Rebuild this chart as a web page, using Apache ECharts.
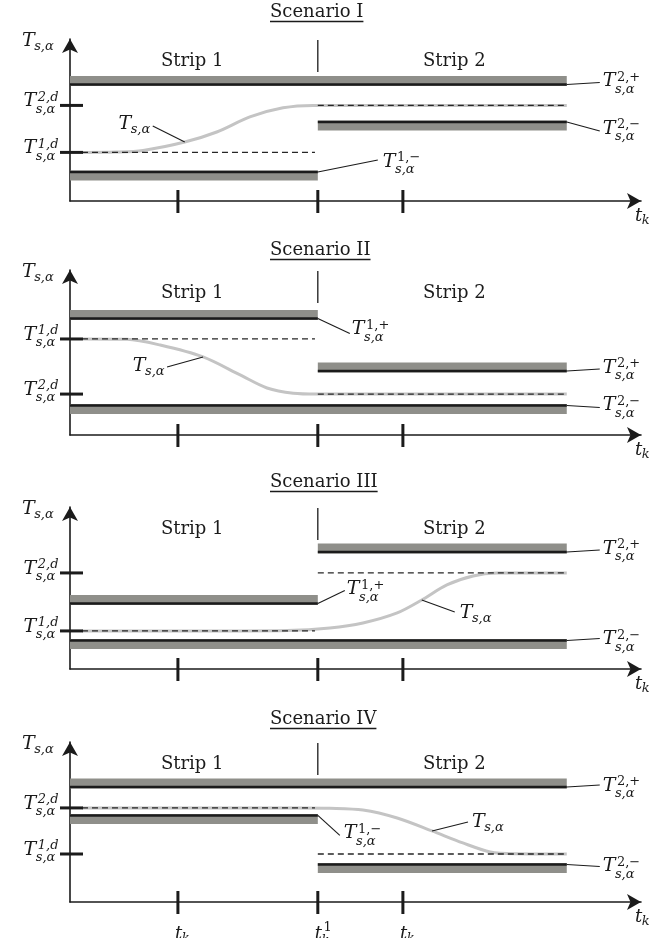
<!DOCTYPE html>
<html>
<head>
<meta charset="utf-8">
<script src="https://cdn.jsdelivr.net/npm/echarts@6/dist/echarts.min.js"></script>
<style>
  html, body { margin: 0; padding: 0; background: #fff; }
  #chart { width: 669px; height: 938px; }
</style>
</head>
<body>
<div id="chart"></div>
<script>
// ---------- shared axis values ----------
const timeRange = [0, 100];
const levelRange = [0, 10];
const switchTime = 43.4;      // t_k^1 : hand-over from strip 1 to strip 2
const horizonEnd = 87;
const profileStart = 2.1;
const strip1RefEnd = 42.9;
const tickTimes = [18.9, 43.4, 58.3];
const tickNames = [
  { main: 't', sub: 'k', subsub: '0,2' },
  { main: 't', sub: 'k', sup: '1' },
  { main: 't', sub: 'k', subsub: '1,2' }
];
const scenarioTitles = ['Scenario I', 'Scenario II', 'Scenario III', 'Scenario IV'];
const stripNames = ['Strip 1', 'Strip 2'];
const stripCentres = [21.4, 67.3];

// ---------- Scenario I ----------
const targetsI = [3.0, 5.9];                        // T^{1,d}, T^{2,d}
const boundsI = [                                    // [from, to, level, +1 upper / -1 lower]
  [0, 87, 7.19, 1],
  [43.4, 87, 4.88, -1],
  [0, 43.4, 1.79, -1]
];
const referenceI = [[profileStart, strip1RefEnd, targetsI[0]], [switchTime, horizonEnd, targetsI[1]]];
const profileI = [[2.1, 3.0], [8, 3.02], [12.8, 3.12], [20.1, 3.64], [25.7, 4.26], [31.5, 5.19], [37.3, 5.75], [42.6, 5.9], [50, 5.9], [87, 5.9]];
const calloutAnchorsI = [[87, 7.19], [87, 4.88], [43.4, 1.79], [20.1, 3.64]];
const calloutNamesI = ['2,+', '2,\u2212', '1,\u2212', null];

// ---------- Scenario II ----------
const targetsII = [5.82, 2.48];
const boundsII = [
  [0, 43.4, 7.06, 1],
  [43.4, 87, 3.88, 1],
  [0, 87, 1.79, -1]
];
const referenceII = [[profileStart, strip1RefEnd, targetsII[0]], [switchTime, horizonEnd, targetsII[1]]];
const profileII = [[2.3, 5.82], [10, 5.8], [15.8, 5.45], [23.3, 4.73], [29.8, 3.64], [34.5, 2.85], [39.1, 2.53], [43.3, 2.48], [50, 2.48], [87, 2.48]];
const calloutAnchorsII = [[43.4, 7.06], [23.3, 4.73], [87, 3.88], [87, 1.79]];
const calloutNamesII = ['1,+', null, '2,+', '2,\u2212'];

// ---------- Scenario III ----------
const targetsIII = [2.35, 5.93];
const boundsIII = [
  [43.4, 87, 7.22, 1],
  [0, 43.4, 4.04, 1],
  [0, 87, 1.76, -1]
];
const referenceIII = [[profileStart, strip1RefEnd, targetsIII[0]], [switchTime, horizonEnd, targetsIII[1]]];
const profileIII = [[2.1, 2.35], [30, 2.35], [38, 2.37], [45.5, 2.53], [51.3, 2.84], [57.3, 3.46], [61.6, 4.26], [66, 5.19], [70.6, 5.74], [74.8, 5.92], [80, 5.93], [87, 5.93]];
const calloutAnchorsIII = [[87, 7.22], [43.4, 4.04], [61.6, 4.26], [87, 1.76]];
const calloutNamesIII = ['2,+', '1,+', null, '2,\u2212'];

// ---------- Scenario IV ----------
const targetsIV = [3.0, 5.88];
const boundsIV = [
  [0, 87, 7.19, 1],
  [0, 43.4, 5.41, -1],
  [43.4, 87, 2.34, -1]
];
const referenceIV = [[profileStart, strip1RefEnd, targetsIV[1]], [switchTime, horizonEnd, targetsIV[0]]];
const profileIV = [[2.1, 5.88], [30, 5.88], [40, 5.88], [45.5, 5.86], [51.3, 5.75], [57.3, 5.25], [63.4, 4.44], [68.8, 3.69], [73.6, 3.13], [78.3, 3.01], [82, 3.0], [87, 3.0]];
const calloutAnchorsIV = [[87, 7.19], [43.4, 5.41], [63.4, 4.44], [87, 2.34]];
const calloutNamesIV = ['2,+', '1,\u2212', null, '2,\u2212'];

// ---------- layout (pixels) ----------
const GRID_LEFT = 70, GRID_WIDTH = 571;
const panelBox = [
  { top: 39, height: 162, titleY: 12 },
  { top: 270, height: 165, titleY: 250 },
  { top: 507, height: 162, titleY: 482 },
  { top: 742, height: 160, titleY: 719 }
];
// leader vector (dx, dy) from anchor, then label offset (lx, ly) from the leader end
const calloutLayout = [
  [[33, -2, 3, -1], [33, 9, 3, -2], [60, -12, 5, 2], [-32, -16, -1, -2]],
  [[32, 15, 2, -4], [-36, 10, -1, -1], [33, -2, 3, -1], [33, 2, 3, -2]],
  [[33, -2, 3, -1], [27, -13, 2, -1], [33, 12, 5, 1], [33, -2, 3, 1]],
  [[33, -2, 3, 1], [22, 20, 4, -2], [36, -9, 4, 0], [33, 2, 3, 0]]
];
const STRIP_LABEL_LEVEL = 8.6;

const FONT = '"DejaVu Serif", "Liberation Serif", serif';
const INK = '#1b1b1b';
const BAND = '#8f8f8a';
const PROFILE = '#c4c4c4';

const scenarios = [
  { targets: targetsI, bounds: boundsI, reference: referenceI, profile: profileI, anchors: calloutAnchorsI, names: calloutNamesI },
  { targets: targetsII, bounds: boundsII, reference: referenceII, profile: profileII, anchors: calloutAnchorsII, names: calloutNamesII },
  { targets: targetsIII, bounds: boundsIII, reference: referenceIII, profile: profileIII, anchors: calloutAnchorsIII, names: calloutNamesIII },
  { targets: targetsIV, bounds: boundsIV, reference: referenceIV, profile: profileIV, anchors: calloutAnchorsIV, names: calloutNamesIV }
];

// ---------- text helpers ----------
const measureCtx = document.createElement('canvas').getContext('2d');
function textWidth(str, font) { measureCtx.font = font; return measureCtx.measureText(str).width; }

function txt(x, y, text, font, align) {
  const a = align || 'left';
  return {
    type: 'text', silent: true,
    style: { x: x, y: y, text: text, font: font, fill: INK, align: a, textAlign: a, verticalAlign: 'middle', textVerticalAlign: 'middle' }
  };
}

// A symbol like T^{2,+}_{s,α}: main letter with super-/subscript stacked after it
function mathSymbol(x, y, spec, anchor) {
  const size = spec.size || 19;
  const mainFont = 'italic ' + size + 'px ' + FONT;
  const idxFont = (spec.sup && /[a-z]/.test(spec.sup) ? 'italic ' : '') + '13px ' + FONT;
  const subFont = 'italic 13px ' + FONT;
  const tinyFont = '10px ' + FONT;
  const mainW = textWidth(spec.main, mainFont);
  const supW = spec.sup ? textWidth(spec.sup, idxFont) : 0;
  const kW = spec.sub ? textWidth(spec.sub, subFont) : 0;
  const subW = kW + (spec.subsub ? textWidth(spec.subsub, tinyFont) + 0.5 : 0);
  const total = mainW + 1 + Math.max(supW, subW);
  const x0 = anchor === 'right' ? x - total : x;
  const out = [txt(x0, y, spec.main, mainFont)];
  const lower = spec.main === 't';
  if (spec.sup) out.push(txt(x0 + mainW + 1.5, y - (lower ? 6 : 4), spec.sup, idxFont));
  if (spec.sub) {
    const sy = y + (spec.sup ? (lower ? 7 : 8) : (lower ? 5 : 6));
    out.push(txt(x0 + mainW - 0.5, sy, spec.sub, subFont));
    if (spec.subsub) out.push(txt(x0 + mainW + kW, sy + 4, spec.subsub, tinyFont));
  }
  return out;
}

// ---------- render functions ----------
function renderBound(params, api) {
  const a = api.coord([api.value(0), api.value(2)]);
  const b = api.coord([api.value(1), api.value(2)]);
  const upper = api.value(3) > 0;
  return {
    type: 'group', children: [
      { type: 'rect', shape: { x: a[0], y: upper ? a[1] - 8.5 : a[1] - 1.5, width: b[0] - a[0], height: 10 }, style: { fill: BAND } },
      { type: 'line', shape: { x1: a[0], y1: a[1], x2: b[0], y2: b[1] }, style: { stroke: INK, lineWidth: 2.4 } }
    ]
  };
}

function renderReference(params, api) {
  const a = api.coord([api.value(0), api.value(2)]);
  const b = api.coord([api.value(1), api.value(2)]);
  return { type: 'line', shape: { x1: a[0], y1: a[1], x2: b[0], y2: b[1] }, style: { stroke: '#262626', lineWidth: 1.3, lineDash: [6, 4] } };
}

function renderTarget(params, api) {
  const p = api.coord([api.value(0), api.value(1)]);
  const n = params.dataIndex + 1;
  return {
    type: 'group', children: [
      { type: 'line', shape: { x1: p[0] - 10, y1: p[1], x2: p[0] + 13, y2: p[1] }, style: { stroke: INK, lineWidth: 3 } }
    ].concat(mathSymbol(p[0] - 12, p[1] - 4, { main: 'T', sup: n + ',d', sub: 's,\u03b1' }, 'right'))
  };
}

function makeTimeTickRenderer(withLabels) {
  return function (params, api) {
    const p = api.coord([api.value(0), api.value(1)]);
    const kids = [{ type: 'line', shape: { x1: p[0], y1: p[1] - 11, x2: p[0], y2: p[1] + 12 }, style: { stroke: INK, lineWidth: 3 } }];
    if (withLabels) {
      const spec = Object.assign({ size: 18 }, tickNames[params.dataIndex]);
      return { type: 'group', children: kids.concat(mathSymbol(p[0] - 3, p[1] + 32, spec, 'left')) };
    }
    return { type: 'group', children: kids };
  };
}

function renderSeparator(params, api) {
  const p = api.coord([api.value(0), api.value(1)]);
  return { type: 'line', shape: { x1: p[0], y1: p[1] + 1, x2: p[0], y2: p[1] + 33 }, style: { stroke: INK, lineWidth: 1.3 } };
}

function renderStripName(params, api) {
  const p = api.coord([api.value(0), api.value(1)]);
  return txt(p[0], p[1], stripNames[params.dataIndex], '18px ' + FONT, 'center');
}

function makeCalloutRenderer(panel) {
  return function (params, api) {
    const p = api.coord([api.value(0), api.value(1)]);
    const lay = calloutLayout[panel][params.dataIndex];
    const sup = scenarios[panel].names[params.dataIndex];
    const ex = p[0] + lay[0], ey = p[1] + lay[1];
    const spec = sup ? { main: 'T', sup: sup, sub: 's,\u03b1' } : { main: 'T', sub: 's,\u03b1' };
    const lab = mathSymbol(ex + lay[2], ey + lay[3], spec, lay[2] < 0 ? 'right' : 'left');
    return {
      type: 'group', children: [
        { type: 'line', shape: { x1: p[0], y1: p[1], x2: ex, y2: ey }, style: { stroke: INK, lineWidth: 1.1 } }
      ].concat(lab)
    };
  };
}

// ---------- build the four panels ----------
const option = { animation: false, backgroundColor: '#ffffff', grid: [], xAxis: [], yAxis: [], series: [], graphic: [] };
const axisLine = { show: true, onZero: false, symbol: ['none', 'arrow'], symbolSize: [12, 14], lineStyle: { color: INK, width: 1.6 } };

scenarios.forEach(function (sc, i) {
  const box = panelBox[i];
  option.grid.push({ left: GRID_LEFT, width: GRID_WIDTH, top: box.top, height: box.height });
  option.xAxis.push({ type: 'value', gridIndex: i, min: timeRange[0], max: timeRange[1], axisLine: axisLine, axisTick: { show: false }, axisLabel: { show: false }, splitLine: { show: false } });
  option.yAxis.push({ type: 'value', gridIndex: i, min: levelRange[0], max: levelRange[1], axisLine: axisLine, axisTick: { show: false }, axisLabel: { show: false }, splitLine: { show: false } });

  const common = { xAxisIndex: i, yAxisIndex: i, silent: true, clip: false };
  option.series.push(Object.assign({ type: 'custom', z: 2, encode: { x: [0, 1], y: 2 }, data: sc.bounds, renderItem: renderBound }, common));
  option.series.push(Object.assign({
    type: 'line', z: 3, data: sc.profile, smooth: 0.3, symbol: 'none',
    lineStyle: { color: PROFILE, width: 3 }
  }, common));
  option.series.push(Object.assign({ type: 'custom', z: 4, encode: { x: [0, 1], y: 2 }, data: sc.reference, renderItem: renderReference }, common));
  option.series.push(Object.assign({ type: 'custom', z: 5, data: sc.targets.map(function (v) { return [timeRange[0], v]; }), renderItem: renderTarget }, common));
  option.series.push(Object.assign({ type: 'custom', z: 5, data: tickTimes.map(function (t) { return [t, levelRange[0]]; }), renderItem: makeTimeTickRenderer(i === 3) }, common));
  option.series.push(Object.assign({ type: 'custom', z: 5, data: [[switchTime, levelRange[1]]], renderItem: renderSeparator }, common));
  option.series.push(Object.assign({ type: 'custom', z: 5, data: stripCentres.map(function (x) { return [x, STRIP_LABEL_LEVEL]; }), renderItem: renderStripName }, common));
  option.series.push(Object.assign({ type: 'custom', z: 6, data: sc.anchors, renderItem: makeCalloutRenderer(i) }, common));

  // underlined scenario title
  const titleFont = '18px ' + FONT;
  const tw = textWidth(scenarioTitles[i], titleFont);
  option.graphic.push({ type: 'group', silent: true, children: [
    txt(270, box.titleY, scenarioTitles[i], titleFont),
    { type: 'line', shape: { x1: 270, y1: box.titleY + 9.5, x2: 270 + tw, y2: box.titleY + 9.5 }, style: { stroke: INK, lineWidth: 1.3 } }
  ] });
  // axis names
  option.graphic.push({ type: 'group', silent: true, children: mathSymbol(22, box.top + 2, { main: 'T', sub: 's,\u03b1' }, 'left') });
  option.graphic.push({ type: 'group', silent: true, children: mathSymbol(635, box.top + box.height + 15, { main: 't', sub: 'k', size: 18 }, 'left') });
});

const chart = echarts.init(document.getElementById('chart'), null, { renderer: 'canvas' });
chart.setOption(option);
</script>
</body>
</html>
